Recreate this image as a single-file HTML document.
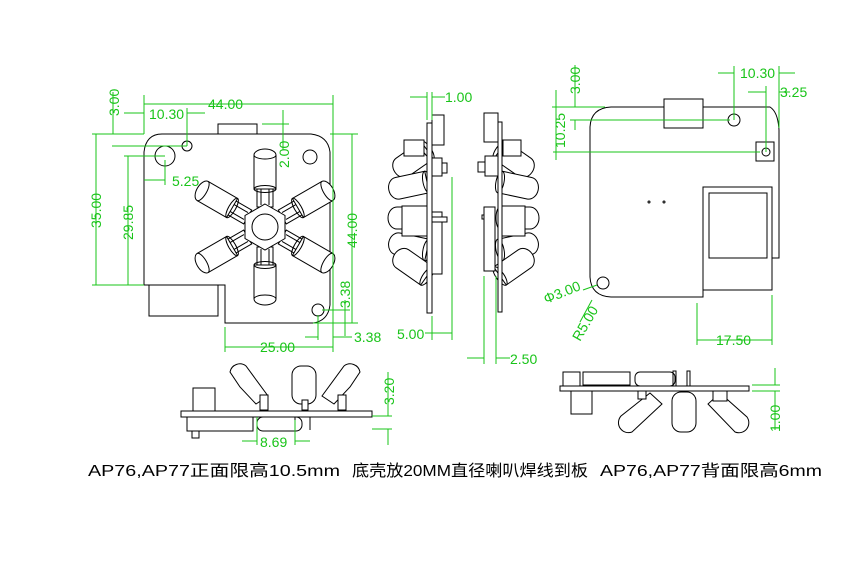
<!DOCTYPE html>
<html><head><meta charset="utf-8"><style>
html,body{margin:0;padding:0;background:#fff;}
svg{display:block;}
.k{fill:none;stroke:#000;stroke-width:1;}
.w{fill:#fff;stroke:#000;stroke-width:1;}
.g{fill:none;stroke:#19c419;stroke-width:1;}
.t{fill:#19c419;font-family:"Liberation Sans",sans-serif;font-size:14px;}
.c{fill:#000;font-family:"Liberation Sans","Noto Sans CJK SC",sans-serif;font-size:16px;}
</style></head><body>
<svg width="862" height="569" viewBox="0 0 862 569" xmlns="http://www.w3.org/2000/svg">
<defs>
<g id="led">
<rect class="w" x="-8" y="-40" width="16" height="20"/>
<line class="k" x1="-4" y1="-40" x2="-4" y2="-22"/><line class="k" x1="4" y1="-40" x2="4" y2="-22"/>
<path class="w" d="M-11,-38 L-11,-72 A11,6 0 0 1 11,-72 L11,-38 Z"/>
<ellipse class="k" cx="0" cy="-38" rx="11" ry="3.5"/>
<path class="k" d="M-11,-72 A11,4 0 0 0 11,-72"/>
</g>
<g id="sled">
<path class="w" d="M0,-11 L-30,-11 A9,11 0 0 0 -30,11 L0,11 Z"/>
<ellipse class="k" cx="0" cy="0" rx="4" ry="11"/>
</g>
</defs>

<!-- ===== VIEW 1 front ===== -->
<path class="k" d="M144,285 L144,152 Q146,134 162,134 L311,134 Q328,136 330,152 L330,305 Q328,321 313,323 L225,323 L225,285 Z"/>
<rect class="k" x="218" y="124" width="39" height="10"/>
<rect class="k" x="149" y="285" width="69" height="31"/>
<circle class="k" cx="187" cy="146" r="5"/>
<circle class="k" cx="165" cy="156" r="10"/>
<circle class="k" cx="310" cy="157" r="7"/>
<circle class="k" cx="318" cy="310" r="6"/>
<g transform="translate(265,227)">
<use href="#led"/><use href="#led" transform="rotate(60)"/><use href="#led" transform="rotate(120)"/>
<use href="#led" transform="rotate(180)"/><use href="#led" transform="rotate(240)"/><use href="#led" transform="rotate(300)"/>
<polygon class="w" points="0,-23 20,-11.5 20,11.5 0,23 -20,11.5 -20,-11.5"/>
<circle class="k" cx="0" cy="0" r="13"/>
</g>
<!-- dims view1 -->
<g class="g">
<line x1="144" y1="104" x2="333" y2="104"/>
<line x1="144" y1="95" x2="144" y2="134"/><line x1="333" y1="95" x2="333" y2="352"/>
<line x1="124" y1="113" x2="144" y2="113"/><line x1="187" y1="108" x2="187" y2="146"/><line x1="187" y1="113" x2="205" y2="113"/>
<line x1="92" y1="134" x2="144" y2="134"/><line x1="113" y1="92" x2="113" y2="134"/>
<line x1="112" y1="146" x2="187" y2="146"/><line x1="124" y1="156" x2="165" y2="156"/>
<line x1="96" y1="134" x2="96" y2="285"/><line x1="92" y1="285" x2="144" y2="285"/>
<line x1="128" y1="156" x2="128" y2="285"/>
<line x1="144" y1="180" x2="165" y2="180"/><line x1="165" y1="160" x2="165" y2="185"/>
<line x1="262" y1="124" x2="289" y2="124"/><line x1="283" y1="110" x2="283" y2="150"/>
<line x1="330" y1="134" x2="358" y2="134"/><line x1="352" y1="134" x2="352" y2="323"/><line x1="313" y1="323" x2="358" y2="323"/>
<line x1="322" y1="310" x2="350" y2="310"/><line x1="345" y1="300" x2="345" y2="336"/>
<line x1="318" y1="315" x2="318" y2="340"/><line x1="305" y1="337" x2="318" y2="337"/><line x1="333" y1="337" x2="352" y2="337"/>
<line x1="225" y1="327" x2="225" y2="352"/><line x1="225" y1="347" x2="333" y2="347"/>
</g>
<text class="t" x="208" y="109">44.00</text>
<text class="t" x="149" y="119">10.30</text>
<text class="t" x="172" y="186">5.25</text>
<text class="t" x="354" y="342">3.38</text>
<text class="t" x="260" y="352">25.00</text>
<text class="t" transform="translate(119,116) rotate(-90)">3.00</text>
<text class="t" transform="translate(101,228) rotate(-90)">35.00</text>
<text class="t" transform="translate(133,240) rotate(-90)">29.85</text>
<text class="t" transform="translate(289,168) rotate(-90)">2.00</text>
<text class="t" transform="translate(357,248) rotate(-90)">44.00</text>
<text class="t" transform="translate(350,308) rotate(-90)">3.38</text>

<!-- ===== side view 1 ===== -->
<g>
<use href="#sled" transform="translate(427,150) rotate(-35)"/>
<use href="#sled" transform="translate(427,182) rotate(-12)"/>
<use href="#sled" transform="translate(427,218)"/>
<use href="#sled" transform="translate(427,250) rotate(12)"/>
<use href="#sled" transform="translate(427,276) rotate(35)"/>
<rect class="w" x="404" y="140" width="20" height="16"/>
<rect class="w" x="402" y="206" width="25" height="30"/>
<rect class="w" x="427" y="123" width="5" height="190"/>
<rect class="w" x="432" y="115" width="12" height="30"/>
<rect class="w" x="432" y="158" width="10" height="18"/>
<rect class="w" x="442" y="163" width="5" height="10"/>
<rect class="w" x="432" y="212" width="10" height="62"/>
<rect class="w" x="432" y="217" width="15" height="5"/>
</g>
<g class="g">
<line x1="427" y1="92" x2="427" y2="120"/><line x1="432" y1="92" x2="432" y2="120"/>
<line x1="410" y1="97" x2="427" y2="97"/><line x1="432" y1="97" x2="445" y2="97"/>
<line x1="432" y1="316" x2="432" y2="340"/><line x1="452" y1="177" x2="452" y2="340"/>
<line x1="425" y1="333" x2="452" y2="333"/>
</g>
<text class="t" x="445" y="102">1.00</text>
<text class="t" x="397" y="339">5.00</text>

<!-- ===== side view 2 ===== -->
<g>
<use href="#sled" transform="translate(500,150) rotate(215)"/>
<use href="#sled" transform="translate(500,182) rotate(192)"/>
<use href="#sled" transform="translate(500,218) rotate(180)"/>
<use href="#sled" transform="translate(500,250) rotate(168)"/>
<use href="#sled" transform="translate(500,276) rotate(145)"/>
<rect class="w" x="503" y="140" width="18" height="16"/>
<rect class="w" x="500" y="206" width="25" height="30"/>
<rect class="w" x="498" y="122" width="4" height="190"/>
<rect class="w" x="484" y="113" width="14" height="29"/>
<rect class="w" x="485" y="156" width="13" height="20"/>
<rect class="w" x="478" y="162" width="7" height="10"/>
<rect class="w" x="484" y="207" width="11" height="64"/>
<rect class="w" x="482" y="215" width="2" height="4"/>
</g>
<g class="g">
<line x1="484" y1="276" x2="484" y2="364"/><line x1="496" y1="276" x2="496" y2="364"/>
<line x1="467" y1="358" x2="484" y2="358"/><line x1="496" y1="358" x2="510" y2="358"/>
</g>
<text class="t" x="510" y="364">2.50</text>

<!-- ===== VIEW 3 back ===== -->
<path class="k" d="M590,127 Q591,108 611,107 L770,107 Q778,112 779,130 L779,258 L703,258 L703,297 L698,297 L611,297 Q591,296 590,277 Z"/>
<rect class="w" x="664" y="99" width="39" height="29"/>
<circle class="k" cx="734" cy="120" r="6"/>
<rect class="k" x="756" y="142" width="18" height="19"/>
<circle class="k" cx="766" cy="152" r="4"/>
<rect class="w" x="703" y="187" width="69" height="103"/>
<rect class="k" x="709" y="193" width="58" height="65"/>
<circle class="k" cx="603" cy="283" r="6"/>
<circle class="k" cx="649" cy="202" r="1"/><circle class="k" cx="664" cy="202" r="1"/>
<g class="g">
<line x1="734" y1="66" x2="734" y2="120"/><line x1="779" y1="66" x2="779" y2="128"/>
<line x1="718" y1="73" x2="734" y2="73"/><line x1="779" y1="73" x2="795" y2="73"/>
<line x1="766" y1="86" x2="766" y2="152"/><line x1="748" y1="92" x2="766" y2="92"/><line x1="779" y1="92" x2="790" y2="92"/>
<line x1="552" y1="107" x2="605" y2="107"/><line x1="575" y1="65" x2="575" y2="107"/><line x1="556" y1="90" x2="556" y2="160"/>
<line x1="570" y1="120" x2="730" y2="120"/><line x1="553" y1="152" x2="760" y2="152"/><line x1="575" y1="120" x2="575" y2="130"/>
<line x1="583" y1="290" x2="597" y2="285"/><line x1="592" y1="300" x2="580" y2="322"/>
<line x1="697" y1="303" x2="697" y2="345"/><line x1="772" y1="295" x2="772" y2="345"/>
<line x1="697" y1="340" x2="772" y2="340"/>
</g>
<text class="t" x="740" y="78">10.30</text>
<text class="t" x="780" y="97">3.25</text>
<text class="t" x="716" y="345">17.50</text>
<text class="t" transform="translate(580,94) rotate(-90)">3.00</text>
<text class="t" transform="translate(565,148) rotate(-90)">10.25</text>
<text class="t" transform="translate(546,304) rotate(-22)">Φ3.00</text>
<text class="t" transform="translate(580,342) rotate(-60)">R5.00</text>

<!-- ===== bottom view 1 ===== -->
<g>
<path class="w" d="M240,387 L230,372 A10,10 0 0 1 246,366 L268,396 L256,404 Z"/>
<path class="w" d="M350,387 L360,372 A10,10 0 0 0 344,366 L322,396 L334,404 Z"/>
<rect class="w" x="292" y="366" width="24" height="38" rx="9"/>
<rect class="w" x="260" y="395" width="8" height="15"/>
<rect class="w" x="338" y="395" width="8" height="15"/>
<rect class="w" x="302" y="400" width="6" height="10"/>
<rect class="w" x="193" y="388" width="22" height="23"/>
<rect class="w" x="181" y="411" width="191" height="6"/>
<rect class="w" x="187" y="417" width="66" height="14"/>
<rect class="w" x="192" y="431" width="7" height="7"/>
<rect class="w" x="257" y="417" width="45" height="14" rx="6"/>
<line class="k" x1="295" y1="417" x2="295" y2="430"/><line class="k" x1="310" y1="417" x2="310" y2="430"/>
</g>
<g class="g">
<line x1="372" y1="416" x2="392" y2="416"/><line x1="372" y1="429" x2="392" y2="429"/>
<line x1="388" y1="372" x2="388" y2="416"/><line x1="388" y1="429" x2="388" y2="445"/>
<line x1="257" y1="417" x2="257" y2="445"/><line x1="295" y1="420" x2="295" y2="445"/>
<line x1="242" y1="441" x2="257" y2="441"/><line x1="295" y1="441" x2="310" y2="441"/>
</g>
<text class="t" x="260" y="447">8.69</text>
<text class="t" transform="translate(394,405) rotate(-90)">3.20</text>

<!-- ===== bottom view 2 ===== -->
<g>
<path class="w" d="M650,393 L621,416 A10,10 0 0 0 632,432 L662,404 Z"/>
<path class="w" d="M720,393 L747,417 A10,10 0 0 1 735,432 L708,404 Z"/>
<rect class="w" x="672" y="392" width="24" height="40" rx="9"/>
<rect class="w" x="638" y="391" width="8" height="8"/>
<rect class="w" x="713" y="391" width="14" height="10"/>
<rect class="w" x="563" y="372" width="17" height="14"/>
<rect class="w" x="583" y="372" width="47" height="13"/>
<rect class="w" x="635" y="372" width="40" height="14" rx="5"/>
<rect class="k" x="673" y="371" width="3" height="15"/><rect class="k" x="687" y="371" width="3" height="15"/>
<rect class="w" x="560" y="386" width="189" height="5"/>
<rect class="w" x="571" y="391" width="21" height="23"/>
</g>
<g class="g">
<line x1="752" y1="385" x2="780" y2="385"/><line x1="752" y1="391" x2="780" y2="391"/>
<line x1="775" y1="368" x2="775" y2="385"/><line x1="775" y1="391" x2="775" y2="430"/>
</g>
<text class="t" transform="translate(780,432) rotate(-90)">1.00</text>

<!-- caption -->
<text class="c" x="88" y="476" textLength="252" lengthAdjust="spacingAndGlyphs">AP76,AP77正面限高10.5mm</text>
<text class="c" x="352" y="476" textLength="236" lengthAdjust="spacingAndGlyphs">底壳放20MM直径喇叭焊线到板</text>
<text class="c" x="600" y="476" textLength="222" lengthAdjust="spacingAndGlyphs">AP76,AP77背面限高6mm</text>
</svg>
</body></html>
